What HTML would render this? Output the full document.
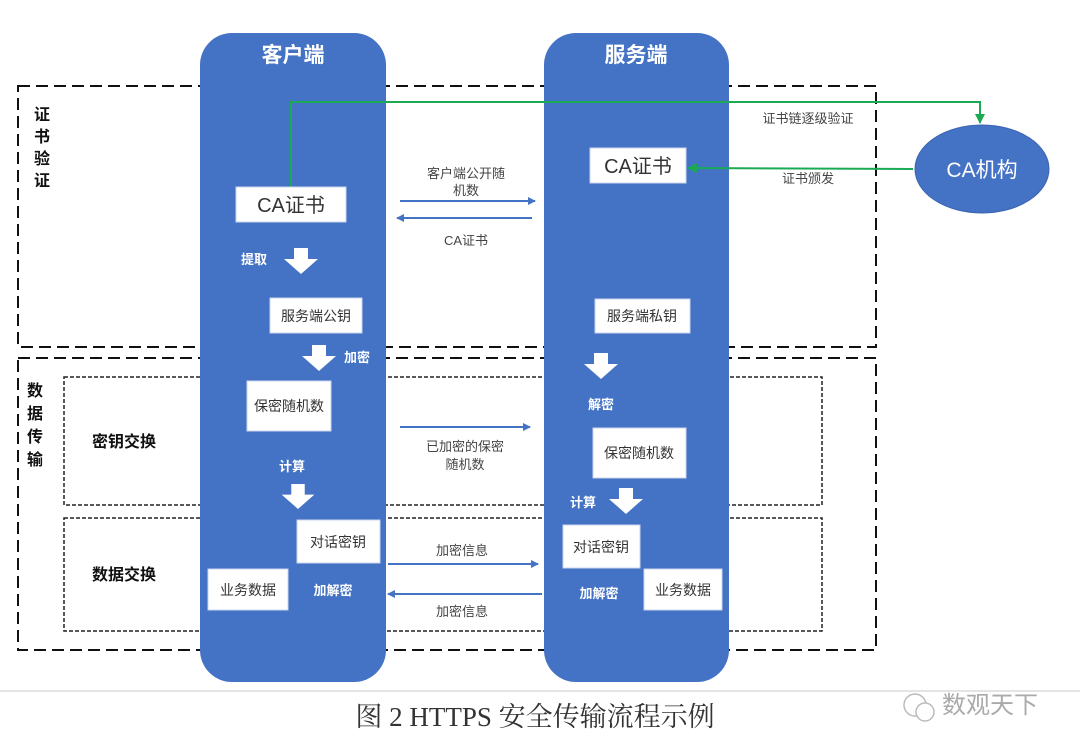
<!DOCTYPE html>
<html><head><meta charset="utf-8"><style>
html,body{margin:0;padding:0;background:#fff;}
svg{display:block;}
text{font-family:"Liberation Sans","Noto Sans CJK SC",sans-serif;}
</style></head><body>
<svg width="1080" height="751" viewBox="0 0 1080 751" xmlns="http://www.w3.org/2000/svg">
<defs>
<marker id="ab" markerWidth="8" markerHeight="8" refX="7" refY="4" orient="auto" markerUnits="userSpaceOnUse"><path d="M0,0 L8,4 L0,8 Z" fill="#4472C4"/></marker>
<marker id="ag" markerWidth="10" markerHeight="10" refX="9" refY="5" orient="auto" markerUnits="userSpaceOnUse"><path d="M0,0 L10,5 L0,10 Z" fill="#1aaa55"/></marker>
<symbol id="da" viewBox="0 0 34 26"><path d="M10,0 H24 V11 H34 L17,26 L0,11 H10 Z" fill="#fff"/></symbol>
</defs>
<!-- dashed boxes (behind pillars) -->
<rect x="18" y="86" width="858" height="261" fill="none" stroke="#111" stroke-width="2" stroke-dasharray="12,6"/>
<rect x="18" y="358" width="858" height="292" fill="none" stroke="#111" stroke-width="2" stroke-dasharray="12,6"/>
<rect x="64" y="377" width="758" height="128" fill="none" stroke="#222" stroke-width="1.5" stroke-dasharray="4,2"/>
<rect x="64" y="518" width="758" height="113" fill="none" stroke="#222" stroke-width="1.5" stroke-dasharray="4,2"/>
<!-- pillars -->
<rect x="200" y="33" width="186" height="649" rx="32" fill="#4472C4"/>
<rect x="544" y="33" width="185" height="649" rx="32" fill="#4472C4"/>
<!-- left labels -->
<g font-size="16" font-weight="bold" fill="#111" text-anchor="middle">
<text x="42" y="120">证</text><text x="42" y="142">书</text><text x="42" y="164">验</text><text x="42" y="186">证</text>
<text x="35" y="396">数</text><text x="35" y="419">据</text><text x="35" y="442">传</text><text x="35" y="465">输</text>
<text x="124" y="447">密钥交换</text><text x="124" y="580">数据交换</text>
</g>
<!-- titles -->
<text x="293" y="62" font-size="21" font-weight="bold" fill="#fff" text-anchor="middle">客户端</text>
<text x="636" y="62" font-size="21" font-weight="bold" fill="#fff" text-anchor="middle">服务端</text>
<!-- green lines -->
<polyline points="291,187 291,102 980,102 980,123" fill="none" stroke="#1aaa55" stroke-width="2" marker-end="url(#ag)"/>
<line x1="913" y1="169" x2="688" y2="168" stroke="#1aaa55" stroke-width="2" marker-end="url(#ag)"/>
<ellipse cx="982" cy="169" rx="67" ry="44" fill="#4472C4" stroke="#3a64b0"/>
<text x="982" y="177" font-size="21" fill="#fff" text-anchor="middle">CA机构</text>
<g font-size="13" fill="#444" text-anchor="middle">
<text x="808" y="123">证书链逐级验证</text><text x="808" y="183">证书颁发</text>
<text x="466" y="178">客户端公开随</text><text x="466" y="195">机数</text>
<text x="466" y="245">CA证书</text>
<text x="465" y="451">已加密的保密</text><text x="465" y="469">随机数</text>
<text x="462" y="555">加密信息</text><text x="462" y="616">加密信息</text>
</g>
<!-- blue arrows -->
<line x1="400" y1="201" x2="535" y2="201" stroke="#4472C4" stroke-width="2" marker-end="url(#ab)"/>
<line x1="532" y1="218" x2="397" y2="218" stroke="#4472C4" stroke-width="2" marker-end="url(#ab)"/>
<line x1="400" y1="427" x2="530" y2="427" stroke="#4472C4" stroke-width="2" marker-end="url(#ab)"/>
<line x1="388" y1="564" x2="538" y2="564" stroke="#4472C4" stroke-width="2" marker-end="url(#ab)"/>
<line x1="542" y1="594" x2="388" y2="594" stroke="#4472C4" stroke-width="2" marker-end="url(#ab)"/>
<!-- white boxes -->
<g fill="#fff" stroke="#c9d6ee" stroke-width="1">
<rect x="236" y="187" width="110" height="35"/>
<rect x="590" y="148" width="96" height="35"/>
<rect x="270" y="298" width="92" height="35"/>
<rect x="595" y="299" width="95" height="34"/>
<rect x="247" y="381" width="84" height="50"/>
<rect x="593" y="428" width="93" height="50"/>
<rect x="297" y="520" width="83" height="43"/>
<rect x="563" y="525" width="77" height="43"/>
<rect x="208" y="569" width="80" height="41"/>
<rect x="644" y="569" width="78" height="41"/>
</g>
<g fill="#333" text-anchor="middle">
<text x="291" y="212" font-size="20">CA证书</text>
<text x="638" y="173" font-size="20">CA证书</text>
<g font-size="14">
<text x="316" y="321">服务端公钥</text>
<text x="642" y="321">服务端私钥</text>
<text x="289" y="411">保密随机数</text>
<text x="639" y="458">保密随机数</text>
<text x="338" y="547">对话密钥</text>
<text x="601" y="552">对话密钥</text>
<text x="248" y="595">业务数据</text>
<text x="683" y="595">业务数据</text>
</g></g>
<!-- white labels -->
<g font-size="13" font-weight="bold" fill="#fff" text-anchor="middle">
<text x="254" y="264">提取</text><text x="357" y="362">加密</text>
<text x="292" y="471">计算</text><text x="333" y="595">加解密</text>
<text x="601" y="409">解密</text><text x="583" y="507">计算</text>
<text x="599" y="598">加解密</text>
</g>
<!-- block arrows -->
<use href="#da" x="284" y="248" width="34" height="26"/>
<use href="#da" x="302" y="345" width="34" height="26"/>
<use href="#da" x="281" y="484" width="34" height="25"/>
<use href="#da" x="584" y="353" width="34" height="26"/>
<use href="#da" x="609" y="488" width="34" height="26"/>
<!-- caption -->
<line x1="0" y1="691" x2="1080" y2="691" stroke="#e4e4e4" stroke-width="2"/>
<text x="535" y="726" font-size="27" fill="#333" text-anchor="middle" style="font-family:'Liberation Serif','Noto Serif CJK SC',serif">图 2 HTTPS 安全传输流程示例</text>
<circle cx="915" cy="705" r="11" fill="none" stroke="#bbb" stroke-width="1.5"/>
<circle cx="925" cy="712" r="9" fill="#fff" stroke="#bbb" stroke-width="1.5"/>
<text x="990" y="713" font-size="24" fill="#aaa" text-anchor="middle">数观天下</text>
</svg>
</body></html>
